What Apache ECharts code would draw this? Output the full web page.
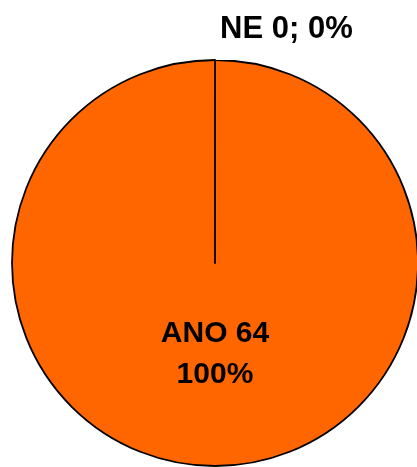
<!DOCTYPE html>
<html>
<head>
<meta charset="utf-8">
<script src="https://cdn.jsdelivr.net/npm/echarts@6/dist/echarts.min.js"></script>
<style>
  html, body { margin: 0; padding: 0; background: #ffffff; }
  #chart { width: 417px; height: 467px; }
</style>
</head>
<body>
<div id="chart"></div>
<script>
// Answer categories and their counts
const categories = ['ANO', 'NE'];
const counts = [64, 0];
const sliceColors = ['#FF6600', '#FF6600'];

const chart = echarts.init(document.getElementById('chart'), null, { renderer: 'canvas' });

const pieData = categories.map((name, i) => {
  const item = {
    name: name,
    value: counts[i],
    itemStyle: { color: sliceColors[i] }
  };
  if (counts[i] === 0) {
    // empty slice: its edge is the radial stroke, its label sits above the pie
    item.label = {
      position: 'outside',
      formatter: '{b} {c}; {d}%',
      fontSize: 31,
      lineHeight: 34
    };
  }
  return item;
});

chart.setOption({
  animation: false,
  backgroundColor: '#ffffff',
  series: [{
    type: 'pie',
    center: [215, 263],
    radius: 203,
    // a hair under 90 so the empty slice's label reads to the right of the top
    startAngle: 89.99,
    clockwise: true,
    avoidLabelOverlap: false,
    minShowLabelAngle: 0,
    itemStyle: {
      borderColor: '#000000',
      borderWidth: 1.8
    },
    label: {
      show: true,
      position: 'inside',
      formatter: '{b} {c}\n{d}%',
      color: '#000000',
      fontFamily: 'Liberation Sans, Arial, sans-serif',
      fontWeight: 'bold',
      fontSize: 30,
      lineHeight: 41
    },
    // lift the inside label a little toward the centre
    labelLayout: function (params) {
      return params.dataIndex === 0 ? { dy: -13 } : {};
    },
    labelLine: { show: false, length: 31, length2: 0 },
    emphasis: { disabled: true },
    data: pieData
  }]
});
</script>
</body>
</html>
